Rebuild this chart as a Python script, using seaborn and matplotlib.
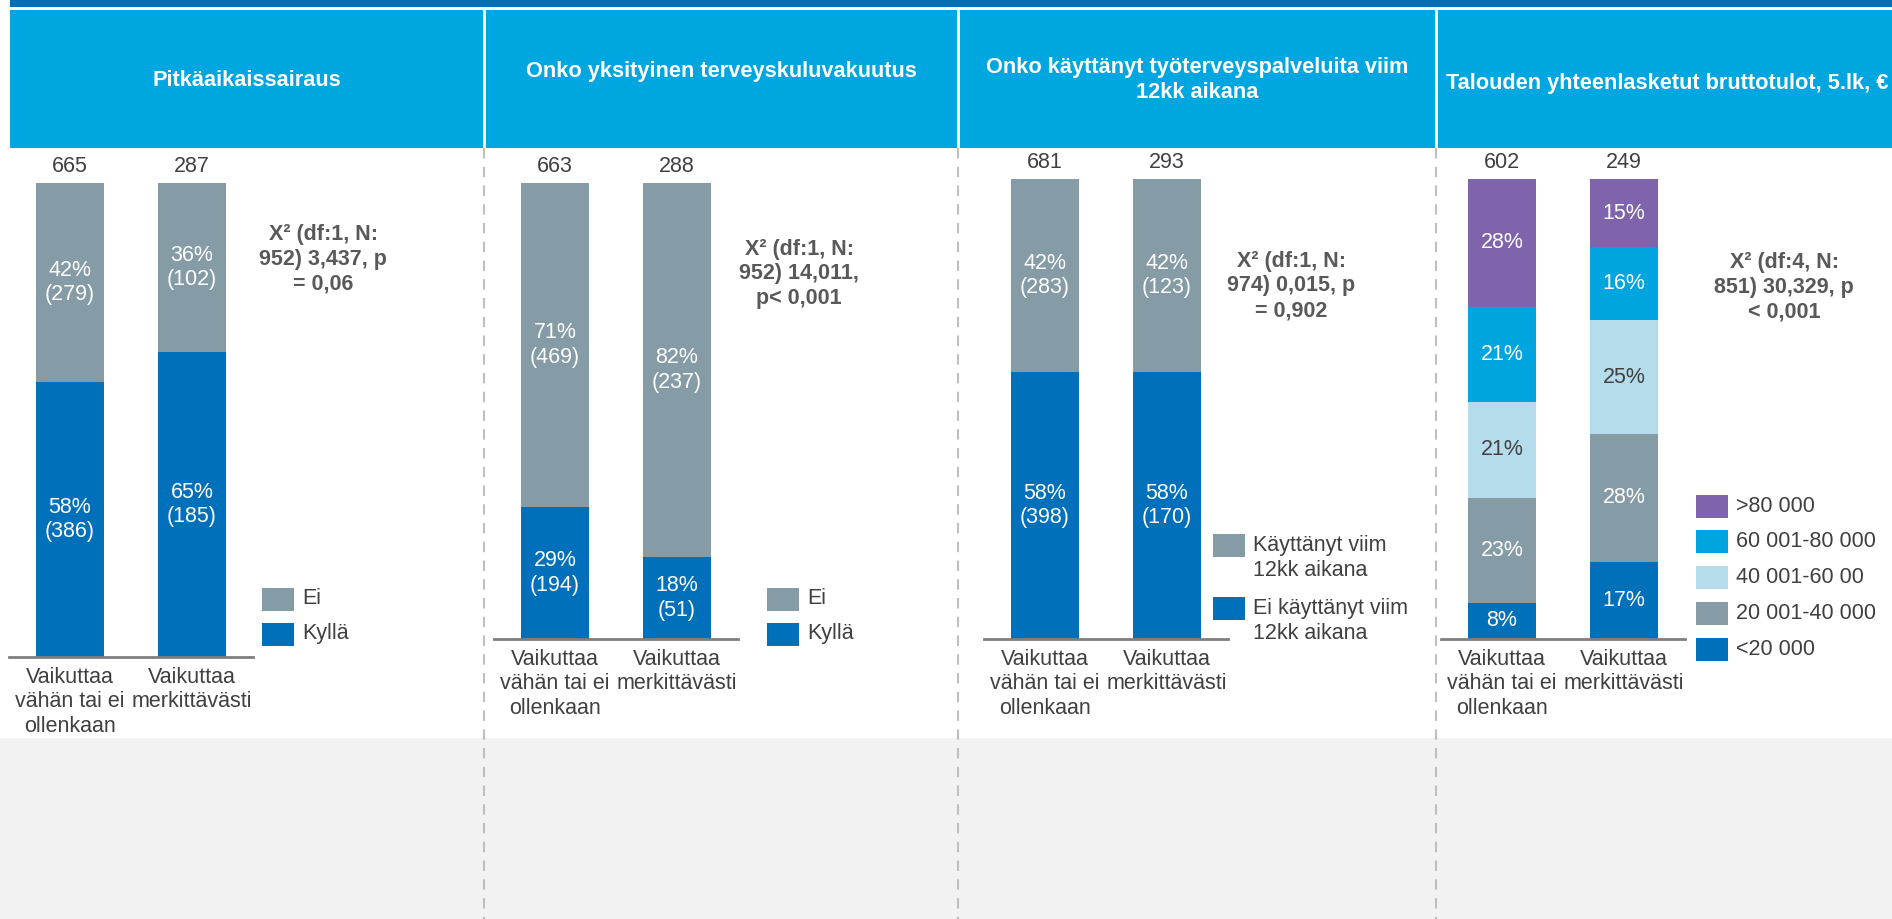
"""
Pylväskuvio: neljä ryhmää, pinotut prosenttipylväät (seaborn).
"""

import matplotlib
matplotlib.use("Agg")
import matplotlib.pyplot as plt
import seaborn as sns
import pandas as pd
from matplotlib.patches import Rectangle

sns.set_theme(style="white")
plt.rcParams["font.family"] = ["Liberation Sans", "DejaVu Sans"]

W, H = 1892, 919

# ---- data ----
categories = ["Vaikuttaa\nvähän tai ei\nollenkaan", "Vaikuttaa\nmerkittävästi"]

p1_title = "Pitkäaikaissairaus"
p1_counts = [665, 287]
p1_segments = ["Kyllä", "Ei"]              # alhaalta ylös
p1_pct = [[58, 65], [42, 36]]
p1_n = [[386, 185], [279, 102]]
p1_stats = "X² (df:1, N:\n952) 3,437, p\n= 0,06"

p2_title = "Onko yksityinen terveyskuluvakuutus"
p2_counts = [663, 288]
p2_segments = ["Kyllä", "Ei"]
p2_pct = [[29, 18], [71, 82]]
p2_n = [[194, 51], [469, 237]]
p2_stats = "X² (df:1, N:\n952) 14,011,\np< 0,001"

p3_title = "Onko käyttänyt työterveyspalveluita viim\n12kk aikana"
p3_counts = [681, 293]
p3_segments = ["Ei käyttänyt viim\n12kk aikana", "Käyttänyt viim\n12kk aikana"]
p3_pct = [[58, 58], [42, 42]]
p3_n = [[398, 170], [283, 123]]
p3_stats = "X² (df:1, N:\n974) 0,015, p\n= 0,902"

p4_title = "Talouden yhteenlasketut bruttotulot, 5.lk, €"
p4_counts = [602, 249]
p4_segments = ["<20 000", "20 001-40 000", "40 001-60 00", "60 001-80 000", ">80 000"]
p4_pct = [[8, 17], [23, 28], [21, 25], [21, 16], [28, 15]]
p4_stats = "X² (df:4, N:\n851) 30,329, p\n< 0,001"

# ---- colours ----
BLUE = "#0070BA"
GRAY = "#859BA5"
LIGHT = "#B4DCEB"
CYAN = "#00A5E0"
PURPLE = "#7F63AB"
HEADER = "#00A6E0"
TEXT = "#404040"
STAT = "#595959"
FS = 15.5
LS = 1.23


def draw_panel(fig, box, counts, segments, pct, n, colors):
    """Pinottu 100 % pylväs yhdelle paneelille. box = (left, top, base) pikseleinä."""
    left, top, base = box
    ax = fig.add_axes([left / W, 1 - base / H, 244 / W, (base - top) / H])
    ax.set_facecolor("none")

    rows = []
    for s, seg in enumerate(segments):
        for c, cat in enumerate(categories):
            rows.append({"cat": cat, "seg": seg, "pct": pct[s][c],
                         "n": n[s][c] if n else None})
    df = pd.DataFrame(rows)
    df["total"] = df.groupby("cat")["pct"].transform("sum")
    df["top"] = df.groupby("cat")["pct"].cumsum() / df["total"] * 100
    df["mid"] = df["top"] - df["pct"] / df["total"] * 50

    # ylin segmentti ensin, alemmat piirretään päälle
    for seg in reversed(segments):
        sns.barplot(data=df[df["seg"] == seg], x="cat", y="top", order=categories,
                    color=colors[seg], width=0.55, saturation=1, linewidth=0,
                    errorbar=None, ax=ax)

    for _, r in df.iterrows():
        label = f"{r['pct']}%"
        if r["n"] is not None and not pd.isna(r["n"]):
            label += f"\n({int(r['n'])})"
        col = TEXT if colors[r["seg"]] == LIGHT else "white"
        ax.text(categories.index(r["cat"]), r["mid"], label, ha="center", va="center",
                color=col, fontsize=FS, linespacing=LS)

    for i, cnt in enumerate(counts):
        ax.annotate(str(cnt), (i, 100), xytext=(0, 4), textcoords="offset points",
                    ha="center", va="bottom", fontsize=FS, color=TEXT,
                    annotation_clip=False)

    ax.set_xlim(-0.5, 1.5)
    ax.set_ylim(0, 100)
    ax.set_yticks([])
    ax.set_xlabel("")
    ax.set_ylabel("")
    ax.set_xticks([0, 1])
    ax.set_xticklabels(categories, fontsize=FS, color=TEXT, linespacing=LS)
    ax.tick_params(axis="x", length=0, pad=7)
    sns.despine(ax=ax, left=True)
    ax.spines["bottom"].set_color("#7F7F7F")
    ax.spines["bottom"].set_linewidth(2)
    return ax


def draw_legend(bg, x, rows_y, labels, colors):
    """Selite käsin: laatikko + teksti, ensimmäinen rivi laatikon kohdalla."""
    for y, lab in zip(rows_y, labels):
        bg.add_patch(Rectangle((x, y - 11.5), 32, 23, color=colors[lab], lw=0))
        nl = lab.count("\n")
        bg.text(x + 40, y + nl * 13.2, lab, ha="left", va="center",
                fontsize=FS, color=TEXT, linespacing=LS)


fig = plt.figure(figsize=(W / 100, H / 100), dpi=100)

# tausta-akseli pikselikoordinaateilla
bg = fig.add_axes([0, 0, 1, 1])
bg.set_xlim(0, W)
bg.set_ylim(H, 0)
bg.axis("off")
bg.set_zorder(-1)

bg.add_patch(Rectangle((0, 738), W, H - 738, color="#F2F2F2", lw=0))
bg.add_patch(Rectangle((10, 0), W, 7, color=BLUE, lw=0))
bg.add_patch(Rectangle((10, 10), W, 138, color=HEADER, lw=0))
for xd in [484, 958, 1436]:
    bg.plot([xd, xd], [10, 148], color="white", lw=2)
    bg.plot([xd, xd], [148, H], color="#BFBFBF", lw=1.5, ls=(0, (5, 4)))

HFS = 15.7
bg.text(247, 80, p1_title, ha="center", va="center", color="white",
        fontsize=HFS, fontweight="bold")
bg.text(721, 72, p2_title, ha="center", va="center", color="white",
        fontsize=HFS, fontweight="bold")
bg.text(1197, 80, p3_title, ha="center", va="center", color="white",
        fontsize=HFS, fontweight="bold", linespacing=1.25)
bg.text(1446, 84, p4_title, ha="left", va="center", color="white",
        fontsize=HFS, fontweight="bold")

two_colors = {"Kyllä": BLUE, "Ei": GRAY}
p3_colors = {p3_segments[0]: BLUE, p3_segments[1]: GRAY}
p4_colors = dict(zip(p4_segments, [BLUE, GRAY, LIGHT, CYAN, PURPLE]))

draw_panel(fig, (9, 183, 657), p1_counts, p1_segments, p1_pct, p1_n, two_colors)
draw_panel(fig, (494, 183, 639), p2_counts, p2_segments, p2_pct, p2_n, two_colors)
draw_panel(fig, (984, 179, 639), p3_counts, p3_segments, p3_pct, p3_n, p3_colors)
draw_panel(fig, (1441, 179, 639), p4_counts, p4_segments, p4_pct, None, p4_colors)

# khiin neliö -testit
for (sx, sy), txt in zip([(323, 259), (799, 274), (1291, 286), (1784, 287)],
                         [p1_stats, p2_stats, p3_stats, p4_stats]):
    bg.text(sx, sy, txt, ha="center", va="center", fontsize=FS,
            fontweight="bold", color=STAT, linespacing=LS)

draw_legend(bg, 262, [599, 634], p1_segments[::-1], two_colors)
draw_legend(bg, 767, [599, 634], p2_segments[::-1], two_colors)
draw_legend(bg, 1213, [545, 608], p3_segments[::-1], p3_colors)
draw_legend(bg, 1696, [506 + 35.8 * i for i in range(5)], p4_segments[::-1], p4_colors)

fig.savefig("out.png", dpi=100)
